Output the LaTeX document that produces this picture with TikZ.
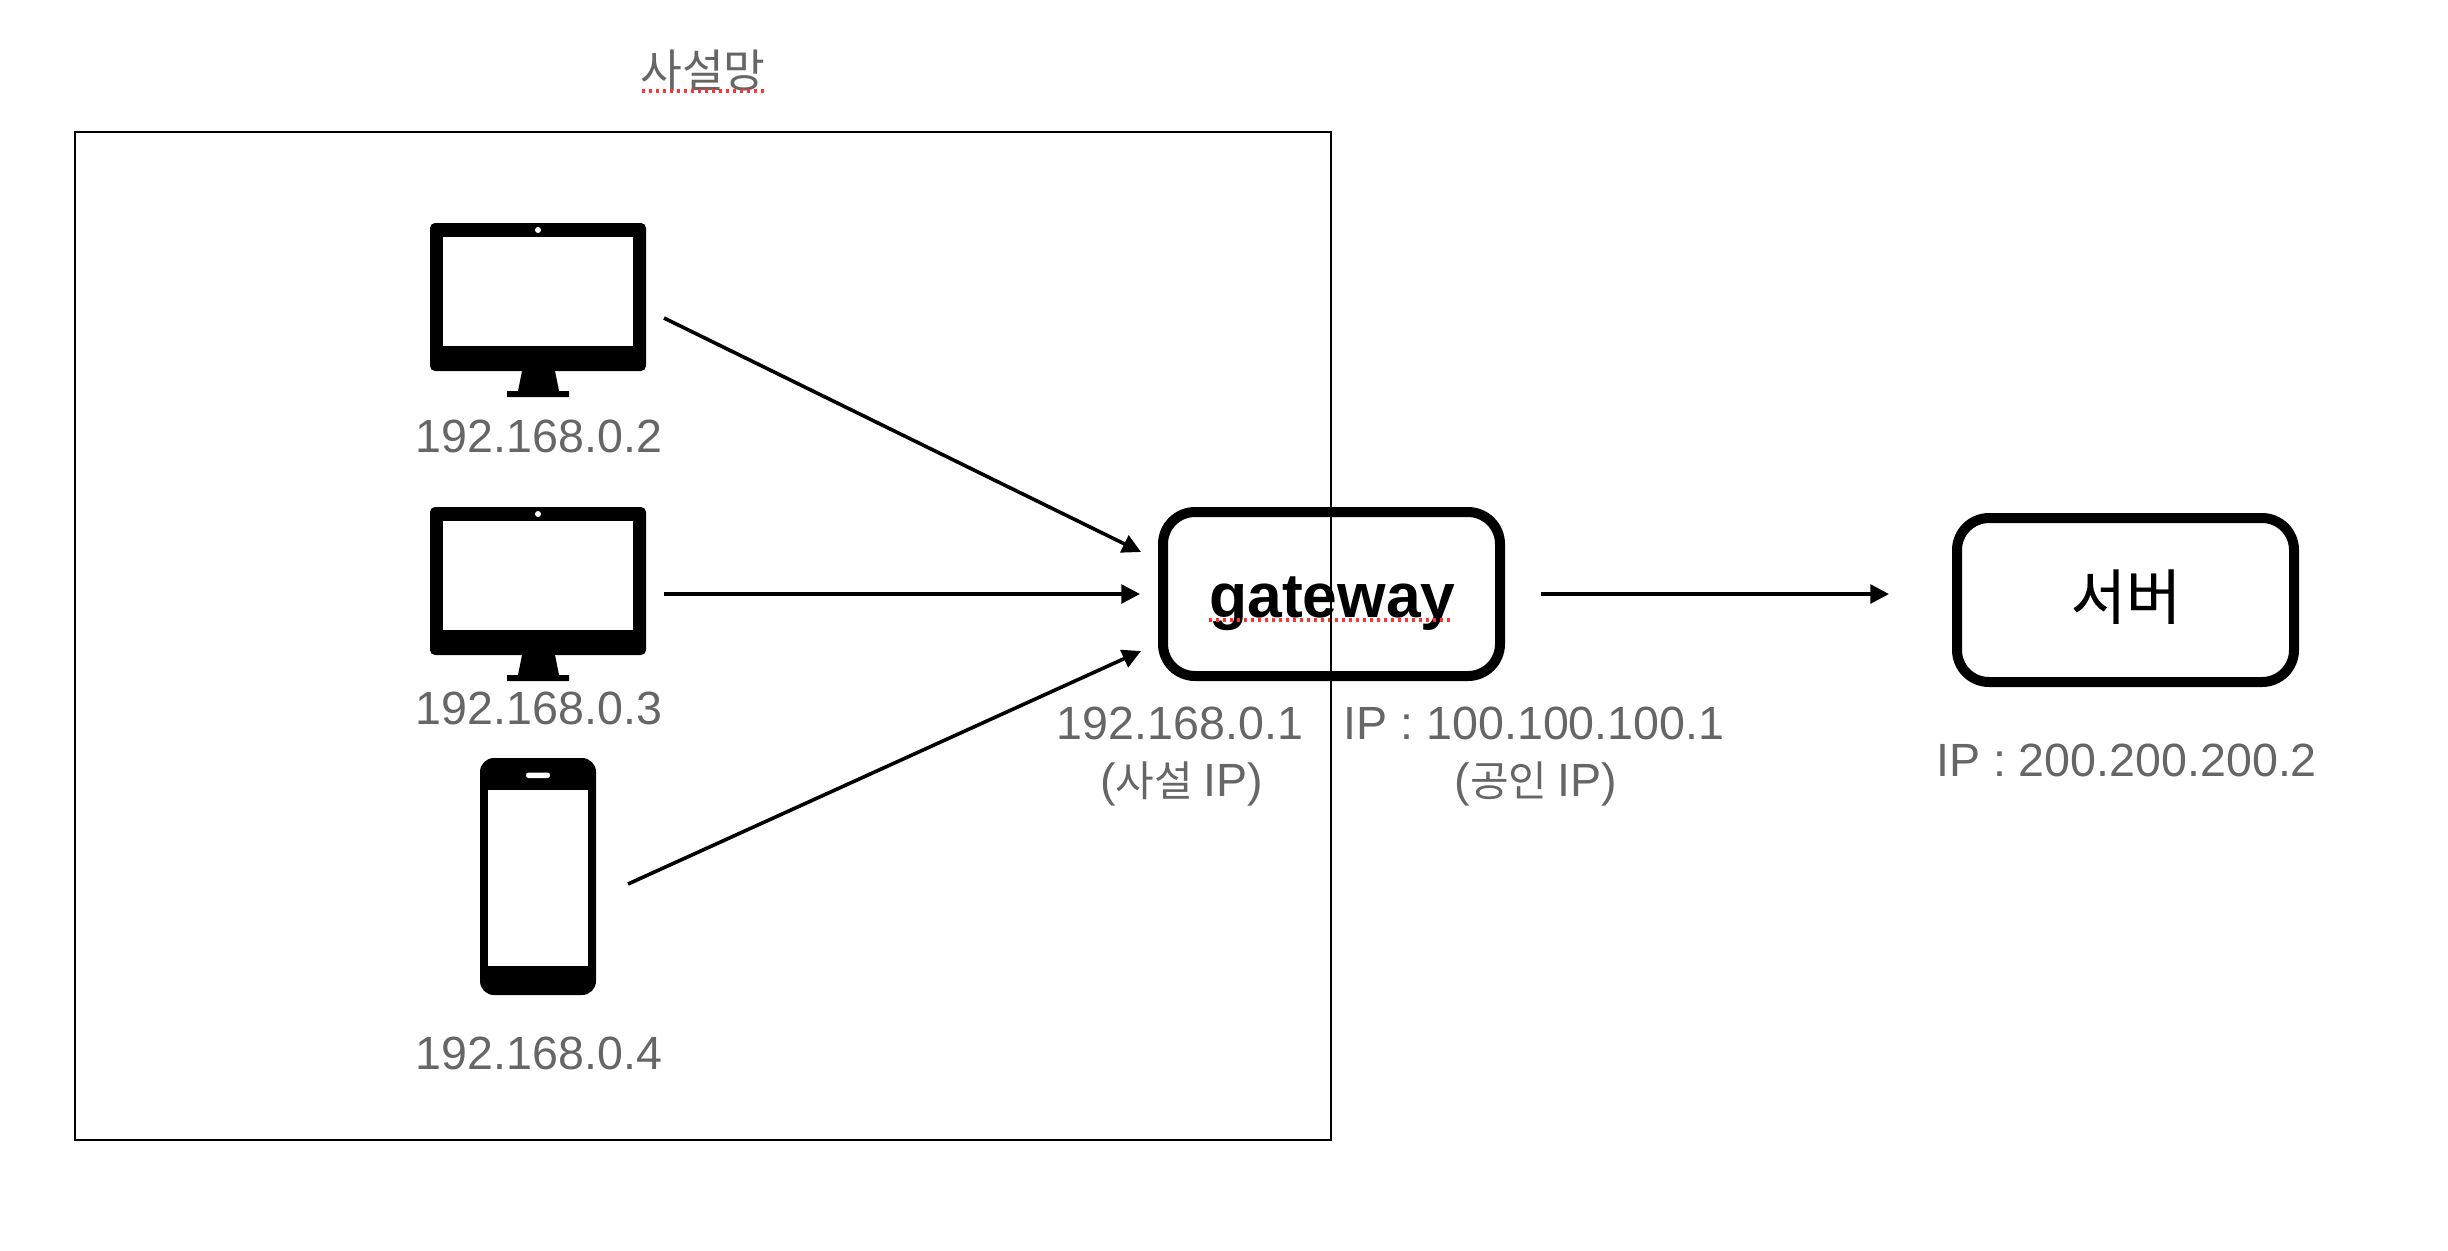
\documentclass[tikz,border=0pt]{standalone}
\usepackage{fontspec}
\setmainfont{Liberation Sans}
\newfontfamily\kr{Noto Sans CJK KR}
\newfontfamily\krb[FakeBold=0.35]{Noto Sans CJK KR}
\usetikzlibrary{arrows.meta}
\definecolor{lbl}{HTML}{666666}
\definecolor{spell}{HTML}{FF3333}
\tikzset{
  x=0.5pt,y=-0.5pt,
  lab/.style={anchor=base,inner sep=0pt,outer sep=0pt,text=lbl,font=\fontsize{23.3}{28}\selectfont},
  krlab/.style={lab,font=\fontsize{22.7}{28}\selectfont\kr},
  box/.style={draw=black,line width=5pt,rounded corners=16pt,fill=white,minimum width=168.5pt,inner sep=0pt,outer sep=0pt},
  conn/.style={line width=1.8pt,-{Triangle[length=9.3pt,width=9.3pt]}},
  squiggle/.style={draw=spell,line width=1.6pt,dash pattern=on 1.7pt off 1.8pt},
  monitor/.pic={
    \fill[black,rounded corners=2.5pt] (-108,-74) rectangle (108,74);
    \fill[white] (-95,-60) rectangle (95,49);
    \fill[white] (0,-67) circle (1.5pt);
    \fill[black] (-16,74) -- (17,74) -- (21,94) -- (31,94) -- (31,100) -- (-31,100) -- (-31,94) -- (-20,94) -- cycle;
  },
  phone/.pic={
    \fill[black,rounded corners=7pt] (-58,-118.5) rectangle (58,118.5);
    \fill[white] (-50,-87) rectangle (50,89);
    \fill[white,rounded corners=1.2pt] (-12,-104) rectangle (12,-98.5);
  }
}
\newcommand{\krs}[1]{{\fontsize{21}{28}\selectfont\kr #1}}
\begin{document}
\begin{tikzpicture}
\path[use as bounding box,fill=white] (0,0) rectangle (2448,1250);

% devices
\pic at (538,297) {monitor};
\pic at (538,581) {monitor};
\pic at (538,876.5) {phone};

% gateway and server
\node[box,minimum height=82pt] (gw) at (1331.5,594) {};
\node[anchor=base,inner sep=0pt,font=\fontsize{31.2}{36}\selectfont\bfseries] (gwtext) at (1332.5,617) {gateway};
\draw[squiggle] (1209,620) -- (1452,620);

\node[box,minimum height=82pt] (srv) at (2125.5,600) {};
\node[anchor=base,inner sep=0pt,font=\fontsize{30}{36}\selectfont\krb] (srvtext) at (2126,619) {서버};

% frame
\node[draw=black,line width=1pt,inner sep=0pt,outer sep=0pt,minimum width=628pt,minimum height=504pt,fill=none] (frame) at (703,636) {};

% labels
\node[krlab] (title) at (703,87) {사설망};
\draw[squiggle] (642,91) -- (765,91);
\node[lab] (ip2) at (539,452) {192.168.0.2};
\node[lab] (ip3) at (539,724) {192.168.0.3};
\node[lab] (ip4) at (539,1069) {192.168.0.4};
\node[lab] (gwin) at (1180,739) {192.168.0.1};
\node[lab] (gwinb) at (1181.5,796) {(\krs{사설}\hspace{-0.06em} IP)};
\node[lab] (gwout) at (1534,739) {IP : 100.100.100.1};
\node[lab] (gwoutb) at (1536,796) {(\krs{공인}\hspace{-0.06em} IP)};
\node[lab] (srvip) at (2126.5,776) {IP : 200.200.200.2};

% connector ends
\coordinate (a1) at (664,318);
\coordinate (a2) at (664,594);
\coordinate (a3) at (628,884);
\coordinate (b1) at (1141,552);
\coordinate (b2) at (1140,594);
\coordinate (b3) at (1141,651);
\coordinate (c1) at (1541,594);
\coordinate (c2) at (1889,594);
\draw[conn] (a1) -- (b1);
\draw[conn] (a2) -- (b2);
\draw[conn] (a3) -- (b3);
\draw[conn] (c1) -- (c2);
\end{tikzpicture}
\end{document}
